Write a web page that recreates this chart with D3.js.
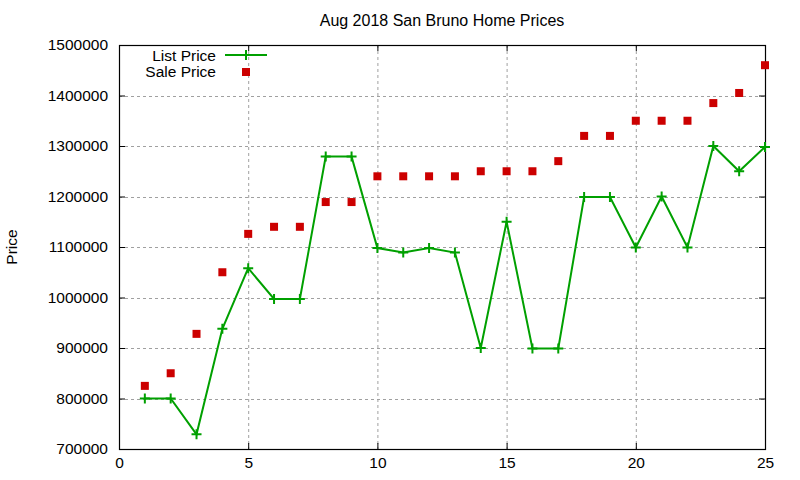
<!DOCTYPE html>
<html>
<head>
<meta charset="utf-8">
<script src="https://cdn.jsdelivr.net/npm/d3@7"></script>
<style>
  body { margin: 0; background: #fff; }
  text { font-family: "Liberation Sans", Arial, sans-serif; fill: #000; }
</style>
</head>
<body>
<svg id="chart" width="800" height="480"></svg>
<script>
const days = d3.range(1, 26);
const listPrice = [800000, 800000, 729000, 938000, 1058000, 997000, 997000, 1279000, 1279000, 1098000,
  1089000, 1098000, 1089000, 900000, 1150000, 899000, 899000, 1199000, 1199000, 1099000,
  1200000, 1099000, 1300000, 1250000, 1298000];
const salePrice = [825000, 850000, 928000, 1050000, 1126000, 1140000, 1140000, 1189000, 1189000, 1240000,
  1240000, 1240000, 1240000, 1250000, 1250000, 1250000, 1270000, 1320000, 1320000, 1350000,
  1350000, 1350000, 1385000, 1405000, 1460000];
const xTicks = [0, 5, 10, 15, 20, 25];
const yTicks = [700000, 800000, 900000, 1000000, 1100000, 1200000, 1300000, 1400000, 1500000];

const svg = d3.select("#chart");
const pLeft = 119, pRight = 765, pTop = 45, pBottom = 449;
const green = "#00a000", red = "#cc0000";

const x = d3.scaleLinear().domain([0, 25]).range([pLeft, pRight]);
const y = d3.scaleLinear().domain([700000, 1500000]).range([pBottom, pTop]);

// grid
const grid = svg.append("g").attr("stroke", "#a0a0a0").attr("stroke-dasharray", "3,3").attr("stroke-width", 1);
xTicks.slice(1, -1).forEach(t => {
  grid.append("line").attr("x1", x(t) + 0.5).attr("x2", x(t) + 0.5).attr("y1", pTop).attr("y2", pBottom);
});
yTicks.slice(1, -1).forEach(t => {
  grid.append("line").attr("x1", pLeft).attr("x2", pRight).attr("y1", Math.round(y(t)) + 0.5).attr("y2", Math.round(y(t)) + 0.5);
});

// axes with mirrored inward ticks
const tl = 6;
svg.append("g").attr("transform", `translate(0,${pBottom})`)
  .call(d3.axisBottom(x).tickValues(xTicks).tickSize(-tl).tickPadding(8))
  .call(g => g.select(".domain").remove())
  .call(g => g.selectAll("text").attr("font-size", 15.5).attr("font-family", "Liberation Sans, Arial, sans-serif"));
svg.append("g").attr("transform", `translate(0,${pTop})`)
  .call(d3.axisTop(x).tickValues(xTicks).tickSize(-tl).tickFormat(""))
  .call(g => g.select(".domain").remove());
svg.append("g").attr("transform", `translate(${pLeft},0)`)
  .call(d3.axisLeft(y).tickValues(yTicks).tickSize(-tl).tickPadding(11).tickFormat(d3.format("d")))
  .call(g => g.select(".domain").remove())
  .call(g => g.selectAll("text").attr("font-size", 15.5).attr("font-family", "Liberation Sans, Arial, sans-serif"));
svg.append("g").attr("transform", `translate(${pRight},0)`)
  .call(d3.axisRight(y).tickValues(yTicks).tickSize(-tl).tickFormat(""))
  .call(g => g.select(".domain").remove());
svg.selectAll(".tick line").attr("stroke", "#000");

svg.append("rect").attr("x", pLeft + 0.5).attr("y", pTop + 0.5)
  .attr("width", pRight - pLeft).attr("height", pBottom - pTop)
  .attr("fill", "none").attr("stroke", "#000").attr("stroke-width", 1.2);

// list price line
const line = d3.line().x((d, i) => x(days[i])).y(d => y(d));
svg.append("path").datum(listPrice).attr("d", line)
  .attr("fill", "none").attr("stroke", green).attr("stroke-width", 2);

function plus(g, cx, cy) {
  g.append("path").attr("d", `M${cx - 5},${cy}H${cx + 5}M${cx},${cy - 5}V${cy + 5}`)
    .attr("stroke", green).attr("stroke-width", 2);
}
const pts = svg.append("g");
listPrice.forEach((v, i) => plus(pts, x(days[i]), y(v)));

// sale price squares
svg.append("g").selectAll("rect").data(salePrice).enter().append("rect")
  .attr("x", (d, i) => x(days[i]) - 4).attr("y", d => y(d) - 4)
  .attr("width", 8).attr("height", 8).attr("fill", red);

// legend
const lg = svg.append("g").attr("font-size", 15.5);
lg.append("text").attr("x", 216).attr("y", 61).attr("text-anchor", "end").text("List Price");
lg.append("line").attr("x1", 225).attr("x2", 267).attr("y1", 55).attr("y2", 55).attr("stroke", green).attr("stroke-width", 2);
plus(lg, 246, 55);
lg.append("text").attr("x", 216).attr("y", 77).attr("text-anchor", "end").text("Sale Price");
lg.append("rect").attr("x", 242).attr("y", 68).attr("width", 8).attr("height", 8).attr("fill", red);

// titles
svg.append("text").attr("x", (pLeft + pRight) / 2).attr("y", 26).attr("text-anchor", "middle")
  .attr("font-size", 16).text("Aug 2018 San Bruno Home Prices");
svg.append("text").attr("transform", "translate(17,247) rotate(-90)").attr("text-anchor", "middle")
  .attr("font-size", 15.5).text("Price");
</script>
</body>
</html>
